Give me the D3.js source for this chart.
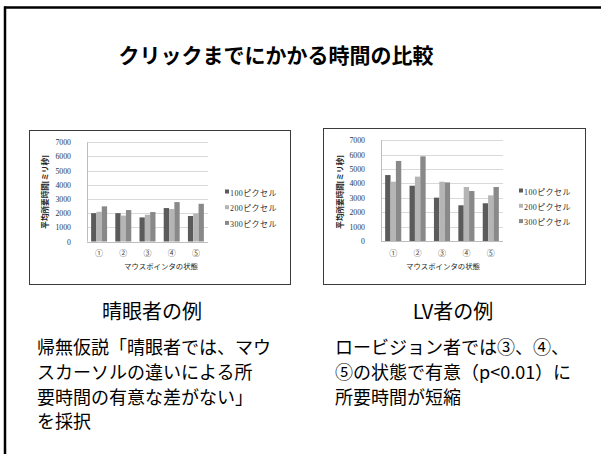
<!DOCTYPE html>
<html>
<head>
<meta charset="utf-8">
<script src="https://cdn.jsdelivr.net/npm/d3@7"></script>
<style>
  html, body { margin: 0; padding: 0; background: #fff; }
  svg { display: block; }
</style>
</head>
<body>
<svg id="slide" width="601" height="454"></svg>
<script>
// Mouse-pointer conditions on the x axis
const categories = ["①", "②", "③", "④", "⑤"];
// Cursor sizes (legend)
const seriesNames = ["100ピクセル", "200ピクセル", "300ピクセル"];
// Mean time to click [ms], sighted participants
const sighted100 = [2000, 2000, 1700, 2360, 1800];
const sighted200 = [2100, 1830, 1890, 2290, 1980];
const sighted300 = [2480, 2220, 2080, 2780, 2660];
// Mean time to click [ms], low-vision participants
const lowVision100 = [4580, 3840, 3010, 2480, 2620];
const lowVision200 = [4120, 4470, 4120, 3750, 3170];
const lowVision300 = [5560, 5880, 4070, 3470, 3750];
const yTicks = [0, 1000, 2000, 3000, 4000, 5000, 6000, 7000];

const seriesColors = ["#5b5b5b", "#b5b5b5", "#898989"];
const serif = "'Liberation Serif', 'DejaVu Serif', 'Noto Sans CJK JP', serif";
const gothic = "'Noto Sans CJK JP', 'Noto Sans', sans-serif";

const svg = d3.select("#slide");

// Slide frame (left and top rules)
svg.append("line").attr("x1", 5).attr("y1", 6.5).attr("x2", 5).attr("y2", 454)
  .attr("stroke", "#000").attr("stroke-width", 2.5);
svg.append("line").attr("x1", 4).attr("y1", 7.5).attr("x2", 601).attr("y2", 7.5)
  .attr("stroke", "#000").attr("stroke-width", 2.5);

// Slide title
svg.append("text").attr("x", 276).attr("y", 63).attr("text-anchor", "middle")
  .attr("font-family", gothic).attr("font-weight", "bold").attr("font-size", 21)
  .attr("fill", "#000").text("クリックまでにかかる時間の比較");

function drawChart(cfg) {
  const g = svg.append("g");
  // chart frame
  g.append("rect").attr("x", cfg.box[0] + 0.5).attr("y", cfg.box[1] + 0.5)
    .attr("width", cfg.box[2]).attr("height", cfg.box[3])
    .attr("fill", "#fff").attr("stroke", "#3a3a3a").attr("stroke-width", 1);

  const x0 = d3.scaleBand().domain(categories).range([cfg.x0, cfg.x1])
    .paddingInner(0.34).paddingOuter(0.17);
  const x1 = d3.scaleBand().domain(seriesNames).range([0, x0.bandwidth()]);
  const y = d3.scaleLinear().domain([0, 7000]).range([cfg.yBase, cfg.yTop]);

  // gridlines
  g.append("g").selectAll("line").data(yTicks.filter(d => d > 0)).join("line")
    .attr("x1", cfg.x0).attr("x2", cfg.x1)
    .attr("y1", d => Math.round(y(d)) + 0.5).attr("y2", d => Math.round(y(d)) + 0.5)
    .attr("stroke", "#d9d9d9").attr("stroke-width", 1);

  // y axis tick labels
  const yAxis = d3.axisLeft(y).tickValues(yTicks).tickSize(0).tickPadding(0)
    .tickFormat(d3.format("d"));
  const ya = g.append("g").attr("transform", `translate(${cfg.tickRight},0)`).call(yAxis);
  ya.select(".domain").remove();
  ya.attr("font-family", serif).attr("color", "#333");
  ya.selectAll("text").attr("font-family", serif).attr("font-size", 7.8).attr("fill", "#333");

  // bars
  const series = cfg.values.map((vals, i) => ({ name: seriesNames[i], vals }));
  g.append("g").selectAll("g").data(series).join("g")
    .attr("fill", (d, i) => seriesColors[i])
    .selectAll("rect").data(s => s.vals.map((v, j) => ({ s: s.name, c: categories[j], v })))
    .join("rect")
    .attr("x", d => x0(d.c) + x1(d.s))
    .attr("width", x1.bandwidth())
    .attr("y", d => y(d.v))
    .attr("height", d => y(0) - y(d.v));

  // axis lines
  g.append("line").attr("x1", cfg.x0 + 0.5).attr("x2", cfg.x0 + 0.5)
    .attr("y1", y(7000)).attr("y2", y(0)).attr("stroke", "#bdbdbd");
  g.append("line").attr("x1", cfg.x0).attr("x2", cfg.x1)
    .attr("y1", Math.round(y(0)) + 0.5).attr("y2", Math.round(y(0)) + 0.5).attr("stroke", "#bdbdbd");

  // category labels
  const xAxis = d3.axisBottom(x0).tickSize(0).tickPadding(0);
  const xa = g.append("g").attr("transform", `translate(0,${cfg.catY})`).call(xAxis);
  xa.select(".domain").remove();
  xa.attr("font-family", serif).attr("color", "#444");
  xa.selectAll("text").attr("font-family", serif).attr("font-size", 8).attr("fill", "#444");

  // axis titles
  g.append("text").attr("x", cfg.xTitle[0]).attr("y", cfg.xTitle[1]).attr("text-anchor", "middle")
    .attr("font-family", serif).attr("font-size", 7.4).attr("fill", "#222")
    .text("マウスポインタの状態");
  g.append("text")
    .attr("transform", `translate(${cfg.yTitle[0]},${cfg.yTitle[1]}) rotate(-90)`)
    .attr("text-anchor", "middle")
    .attr("font-family", serif).attr("font-size", 7.6).attr("font-weight", "bold").attr("fill", "#222")
    .text("平均所要時間[ミリ秒]");

  // legend
  const lg = g.append("g").selectAll("g").data(seriesNames).join("g")
    .attr("transform", (d, i) => `translate(${cfg.legend[0]},${cfg.legend[1] + i * cfg.legendStep})`);
  lg.append("rect").attr("x", 0).attr("y", -3.5).attr("width", 4).attr("height", 4)
    .attr("fill", (d, i) => seriesColors[i]);
  lg.append("text").attr("x", 5).attr("y", 2.5)
    .attr("font-family", serif).attr("font-size", 8).attr("letter-spacing", 0.4)
    .attr("fill", "#333").text(d => d);
}

drawChart({
  box: [29, 130, 261, 154],
  x0: 87, x1: 208, yBase: 241.5, yTop: 142.3,
  tickRight: 71, catY: 250,
  xTitle: [161, 269], yTitle: [48, 192],
  legend: [225, 193], legendStep: 15.7,
  values: [sighted100, sighted200, sighted300]
});

drawChart({
  box: [323, 128, 262, 156],
  x0: 381, x1: 503, yBase: 241, yTop: 140.2,
  tickRight: 365, catY: 250,
  xTitle: [443, 269], yTitle: [343, 192],
  legend: [519, 192], legendStep: 15.3,
  values: [lowVision100, lowVision200, lowVision300]
});

// Panel captions
svg.append("text").attr("x", 152).attr("y", 319).attr("text-anchor", "middle")
  .attr("font-family", gothic).attr("font-size", 20).attr("fill", "#000").text("晴眼者の例");
svg.append("text").attr("x", 453).attr("y", 319).attr("text-anchor", "middle")
  .attr("font-family", gothic).attr("font-size", 20).attr("fill", "#000").text("LV者の例");

// Findings
const leftNote = ["帰無仮説「晴眼者では、マウ", "スカーソルの違いによる所", "要時間の有意な差がない」", "を採択"];
const rightNote = ["ロービジョン者では③、④、", "⑤の状態で有意（p<0.01）に", "所要時間が短縮"];

function drawNote(lines, x, y0) {
  svg.append("g").selectAll("text").data(lines).join("text")
    .attr("x", x).attr("y", (d, i) => y0 + i * 24.8)
    .attr("font-family", gothic).attr("font-size", 18).attr("fill", "#000")
    .text(d => d);
}
drawNote(leftNote, 37, 354);
drawNote(rightNote, 335, 354);
</script>
</body>
</html>
